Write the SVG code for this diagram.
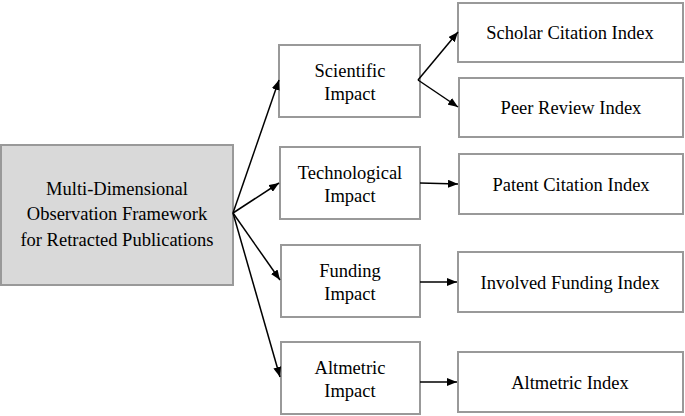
<svg xmlns="http://www.w3.org/2000/svg" width="685" height="416" viewBox="0 0 685 416">
<defs><marker id="a" markerWidth="10" markerHeight="8" refX="10" refY="4" orient="auto" markerUnits="userSpaceOnUse"><path d="M0,0 L10,4 L0,8 z" fill="#000"/></marker></defs>
<style>rect{fill:#fff;stroke:#999;stroke-width:2}text{font-family:"Liberation Serif",serif;font-size:18.5px;text-anchor:middle;fill:#000}line{stroke:#000;stroke-width:1.5;marker-end:url(#a)}</style>
<rect width="685" height="416" style="fill:#fff;stroke:none"/>
<g id="main"><rect x="1" y="145" width="232" height="140" style="fill:#d9d9d9"/><text x="117" y="195">Multi-Dimensional</text><text x="117" y="220">Observation Framework</text><text x="117" y="246">for Retracted Publications</text></g>
<g id="sci"><rect x="279" y="45" width="141" height="72"/><text x="350" y="77">Scientific</text><text x="350" y="100">Impact</text></g>
<g id="tech"><rect x="280" y="147" width="140" height="72"/><text x="350" y="179">Technological</text><text x="350" y="202">Impact</text></g>
<g id="fund"><rect x="281" y="245" width="139" height="72"/><text x="350" y="277">Funding</text><text x="350" y="300">Impact</text></g>
<g id="alt"><rect x="281" y="342" width="139" height="72"/><text x="350" y="374">Altmetric</text><text x="350" y="397">Impact</text></g>
<g id="sch"><rect x="458" y="3" width="225" height="59"/><text x="570" y="39">Scholar Citation Index</text></g>
<g id="peer"><rect x="459" y="78" width="224" height="59"/><text x="571" y="114">Peer Review Index</text></g>
<g id="pat"><rect x="459" y="154" width="224" height="60"/><text x="571" y="191">Patent Citation Index</text></g>
<g id="inv"><rect x="458" y="252" width="225" height="60"/><text x="570" y="289">Involved Funding Index</text></g>
<g id="ai"><rect x="458" y="352" width="225" height="60"/><text x="570" y="389">Altmetric Index</text></g>
<g id="connectors">
<line x1="233" y1="213" x2="279" y2="80"/><line x1="233" y1="213" x2="279" y2="183"/><line x1="233" y1="213" x2="280" y2="280"/><line x1="233" y1="213" x2="280" y2="377"/>
<line x1="418" y1="80" x2="458" y2="32"/><line x1="418" y1="80" x2="458" y2="107"/>
<line x1="420" y1="183" x2="458" y2="184"/><line x1="420" y1="282" x2="457" y2="282"/><line x1="420" y1="382" x2="457" y2="382"/>
</g>
</svg>
